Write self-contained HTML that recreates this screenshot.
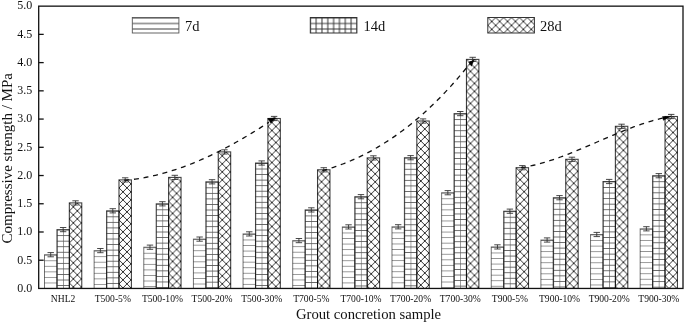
<!DOCTYPE html><html><head><meta charset="utf-8"><style>html,body{margin:0;padding:0;background:#fff}svg{display:block;will-change:transform}text{font-family:"Liberation Serif",serif;fill:#111}</style></head><body>
<svg width="685" height="323" viewBox="0 0 685 323">
<defs>
<pattern shape-rendering="crispEdges" id="g00a" patternUnits="userSpaceOnUse" width="40" height="5.55" x="44.50" y="254.75"><path d="M0,0H40M0,5.55H40" stroke="#888" stroke-width="0.9"/></pattern>
<pattern shape-rendering="crispEdges" id="g00b" patternUnits="userSpaceOnUse" width="6.1" height="5.55" x="44.50" y="254.75"><path d="M0,0V5.55M6.1,0V5.55" stroke="#888" stroke-width="0.9" fill="none"/><path d="M0,0H6.1M0,5.55H6.1" stroke="#555" stroke-width="0.9" fill="none"/></pattern>
<pattern id="g00c" patternUnits="userSpaceOnUse" width="8.0" height="8.0" x="44.50" y="254.75"><path d="M-1,-1 L9.0,9.0 M-1,9.0 L9.0,-1" stroke="#1a1a1a" stroke-width="0.9"/></pattern>
<pattern shape-rendering="crispEdges" id="g01a" patternUnits="userSpaceOnUse" width="40" height="5.55" x="56.92" y="229.60"><path d="M0,0H40M0,5.55H40" stroke="#888" stroke-width="0.9"/></pattern>
<pattern shape-rendering="crispEdges" id="g01b" patternUnits="userSpaceOnUse" width="6.1" height="5.55" x="56.92" y="229.60"><path d="M0,0V5.55M6.1,0V5.55" stroke="#888" stroke-width="0.9" fill="none"/><path d="M0,0H6.1M0,5.55H6.1" stroke="#555" stroke-width="0.9" fill="none"/></pattern>
<pattern id="g01c" patternUnits="userSpaceOnUse" width="8.0" height="8.0" x="56.92" y="229.60"><path d="M-1,-1 L9.0,9.0 M-1,9.0 L9.0,-1" stroke="#1a1a1a" stroke-width="0.9"/></pattern>
<pattern shape-rendering="crispEdges" id="g02a" patternUnits="userSpaceOnUse" width="40" height="5.55" x="69.34" y="202.90"><path d="M0,0H40M0,5.55H40" stroke="#888" stroke-width="0.9"/></pattern>
<pattern shape-rendering="crispEdges" id="g02b" patternUnits="userSpaceOnUse" width="6.1" height="5.55" x="69.34" y="202.90"><path d="M0,0V5.55M6.1,0V5.55" stroke="#888" stroke-width="0.9" fill="none"/><path d="M0,0H6.1M0,5.55H6.1" stroke="#555" stroke-width="0.9" fill="none"/></pattern>
<pattern id="g02c" patternUnits="userSpaceOnUse" width="8.0" height="8.0" x="69.34" y="202.90"><path d="M-1,-1 L9.0,9.0 M-1,9.0 L9.0,-1" stroke="#1a1a1a" stroke-width="0.9"/></pattern>
<pattern shape-rendering="crispEdges" id="g10a" patternUnits="userSpaceOnUse" width="40" height="5.55" x="94.14" y="250.65"><path d="M0,0H40M0,5.55H40" stroke="#888" stroke-width="0.9"/></pattern>
<pattern shape-rendering="crispEdges" id="g10b" patternUnits="userSpaceOnUse" width="6.1" height="5.55" x="94.14" y="250.65"><path d="M0,0V5.55M6.1,0V5.55" stroke="#888" stroke-width="0.9" fill="none"/><path d="M0,0H6.1M0,5.55H6.1" stroke="#555" stroke-width="0.9" fill="none"/></pattern>
<pattern id="g10c" patternUnits="userSpaceOnUse" width="8.0" height="8.0" x="94.14" y="250.65"><path d="M-1,-1 L9.0,9.0 M-1,9.0 L9.0,-1" stroke="#1a1a1a" stroke-width="0.9"/></pattern>
<pattern shape-rendering="crispEdges" id="g11a" patternUnits="userSpaceOnUse" width="40" height="5.55" x="106.56" y="210.80"><path d="M0,0H40M0,5.55H40" stroke="#888" stroke-width="0.9"/></pattern>
<pattern shape-rendering="crispEdges" id="g11b" patternUnits="userSpaceOnUse" width="6.1" height="5.55" x="106.56" y="210.80"><path d="M0,0V5.55M6.1,0V5.55" stroke="#888" stroke-width="0.9" fill="none"/><path d="M0,0H6.1M0,5.55H6.1" stroke="#555" stroke-width="0.9" fill="none"/></pattern>
<pattern id="g11c" patternUnits="userSpaceOnUse" width="8.0" height="8.0" x="106.56" y="210.80"><path d="M-1,-1 L9.0,9.0 M-1,9.0 L9.0,-1" stroke="#1a1a1a" stroke-width="0.9"/></pattern>
<pattern shape-rendering="crispEdges" id="g12a" patternUnits="userSpaceOnUse" width="40" height="5.55" x="118.98" y="179.90"><path d="M0,0H40M0,5.55H40" stroke="#888" stroke-width="0.9"/></pattern>
<pattern shape-rendering="crispEdges" id="g12b" patternUnits="userSpaceOnUse" width="6.1" height="5.55" x="118.98" y="179.90"><path d="M0,0V5.55M6.1,0V5.55" stroke="#888" stroke-width="0.9" fill="none"/><path d="M0,0H6.1M0,5.55H6.1" stroke="#555" stroke-width="0.9" fill="none"/></pattern>
<pattern id="g12c" patternUnits="userSpaceOnUse" width="8.0" height="8.0" x="118.98" y="179.90"><path d="M-1,-1 L9.0,9.0 M-1,9.0 L9.0,-1" stroke="#1a1a1a" stroke-width="0.9"/></pattern>
<pattern shape-rendering="crispEdges" id="g20a" patternUnits="userSpaceOnUse" width="40" height="5.55" x="143.78" y="247.25"><path d="M0,0H40M0,5.55H40" stroke="#888" stroke-width="0.9"/></pattern>
<pattern shape-rendering="crispEdges" id="g20b" patternUnits="userSpaceOnUse" width="6.1" height="5.55" x="143.78" y="247.25"><path d="M0,0V5.55M6.1,0V5.55" stroke="#888" stroke-width="0.9" fill="none"/><path d="M0,0H6.1M0,5.55H6.1" stroke="#555" stroke-width="0.9" fill="none"/></pattern>
<pattern id="g20c" patternUnits="userSpaceOnUse" width="8.0" height="8.0" x="143.78" y="247.25"><path d="M-1,-1 L9.0,9.0 M-1,9.0 L9.0,-1" stroke="#1a1a1a" stroke-width="0.9"/></pattern>
<pattern shape-rendering="crispEdges" id="g21a" patternUnits="userSpaceOnUse" width="40" height="5.55" x="156.20" y="203.80"><path d="M0,0H40M0,5.55H40" stroke="#888" stroke-width="0.9"/></pattern>
<pattern shape-rendering="crispEdges" id="g21b" patternUnits="userSpaceOnUse" width="6.1" height="5.55" x="156.20" y="203.80"><path d="M0,0V5.55M6.1,0V5.55" stroke="#888" stroke-width="0.9" fill="none"/><path d="M0,0H6.1M0,5.55H6.1" stroke="#555" stroke-width="0.9" fill="none"/></pattern>
<pattern id="g21c" patternUnits="userSpaceOnUse" width="8.0" height="8.0" x="156.20" y="203.80"><path d="M-1,-1 L9.0,9.0 M-1,9.0 L9.0,-1" stroke="#1a1a1a" stroke-width="0.9"/></pattern>
<pattern shape-rendering="crispEdges" id="g22a" patternUnits="userSpaceOnUse" width="40" height="5.55" x="168.62" y="177.40"><path d="M0,0H40M0,5.55H40" stroke="#888" stroke-width="0.9"/></pattern>
<pattern shape-rendering="crispEdges" id="g22b" patternUnits="userSpaceOnUse" width="6.1" height="5.55" x="168.62" y="177.40"><path d="M0,0V5.55M6.1,0V5.55" stroke="#888" stroke-width="0.9" fill="none"/><path d="M0,0H6.1M0,5.55H6.1" stroke="#555" stroke-width="0.9" fill="none"/></pattern>
<pattern id="g22c" patternUnits="userSpaceOnUse" width="8.0" height="8.0" x="168.62" y="177.40"><path d="M-1,-1 L9.0,9.0 M-1,9.0 L9.0,-1" stroke="#1a1a1a" stroke-width="0.9"/></pattern>
<pattern shape-rendering="crispEdges" id="g30a" patternUnits="userSpaceOnUse" width="40" height="5.55" x="193.42" y="239.15"><path d="M0,0H40M0,5.55H40" stroke="#888" stroke-width="0.9"/></pattern>
<pattern shape-rendering="crispEdges" id="g30b" patternUnits="userSpaceOnUse" width="6.1" height="5.55" x="193.42" y="239.15"><path d="M0,0V5.55M6.1,0V5.55" stroke="#888" stroke-width="0.9" fill="none"/><path d="M0,0H6.1M0,5.55H6.1" stroke="#555" stroke-width="0.9" fill="none"/></pattern>
<pattern id="g30c" patternUnits="userSpaceOnUse" width="8.0" height="8.0" x="193.42" y="239.15"><path d="M-1,-1 L9.0,9.0 M-1,9.0 L9.0,-1" stroke="#1a1a1a" stroke-width="0.9"/></pattern>
<pattern shape-rendering="crispEdges" id="g31a" patternUnits="userSpaceOnUse" width="40" height="5.55" x="205.84" y="181.80"><path d="M0,0H40M0,5.55H40" stroke="#888" stroke-width="0.9"/></pattern>
<pattern shape-rendering="crispEdges" id="g31b" patternUnits="userSpaceOnUse" width="6.1" height="5.55" x="205.84" y="181.80"><path d="M0,0V5.55M6.1,0V5.55" stroke="#888" stroke-width="0.9" fill="none"/><path d="M0,0H6.1M0,5.55H6.1" stroke="#555" stroke-width="0.9" fill="none"/></pattern>
<pattern id="g31c" patternUnits="userSpaceOnUse" width="8.0" height="8.0" x="205.84" y="181.80"><path d="M-1,-1 L9.0,9.0 M-1,9.0 L9.0,-1" stroke="#1a1a1a" stroke-width="0.9"/></pattern>
<pattern shape-rendering="crispEdges" id="g32a" patternUnits="userSpaceOnUse" width="40" height="5.55" x="218.26" y="151.90"><path d="M0,0H40M0,5.55H40" stroke="#888" stroke-width="0.9"/></pattern>
<pattern shape-rendering="crispEdges" id="g32b" patternUnits="userSpaceOnUse" width="6.1" height="5.55" x="218.26" y="151.90"><path d="M0,0V5.55M6.1,0V5.55" stroke="#888" stroke-width="0.9" fill="none"/><path d="M0,0H6.1M0,5.55H6.1" stroke="#555" stroke-width="0.9" fill="none"/></pattern>
<pattern id="g32c" patternUnits="userSpaceOnUse" width="8.0" height="8.0" x="218.26" y="151.90"><path d="M-1,-1 L9.0,9.0 M-1,9.0 L9.0,-1" stroke="#1a1a1a" stroke-width="0.9"/></pattern>
<pattern shape-rendering="crispEdges" id="g40a" patternUnits="userSpaceOnUse" width="40" height="5.55" x="243.06" y="233.95"><path d="M0,0H40M0,5.55H40" stroke="#888" stroke-width="0.9"/></pattern>
<pattern shape-rendering="crispEdges" id="g40b" patternUnits="userSpaceOnUse" width="6.1" height="5.55" x="243.06" y="233.95"><path d="M0,0V5.55M6.1,0V5.55" stroke="#888" stroke-width="0.9" fill="none"/><path d="M0,0H6.1M0,5.55H6.1" stroke="#555" stroke-width="0.9" fill="none"/></pattern>
<pattern id="g40c" patternUnits="userSpaceOnUse" width="8.0" height="8.0" x="243.06" y="233.95"><path d="M-1,-1 L9.0,9.0 M-1,9.0 L9.0,-1" stroke="#1a1a1a" stroke-width="0.9"/></pattern>
<pattern shape-rendering="crispEdges" id="g41a" patternUnits="userSpaceOnUse" width="40" height="5.55" x="255.48" y="163.00"><path d="M0,0H40M0,5.55H40" stroke="#888" stroke-width="0.9"/></pattern>
<pattern shape-rendering="crispEdges" id="g41b" patternUnits="userSpaceOnUse" width="6.1" height="5.55" x="255.48" y="163.00"><path d="M0,0V5.55M6.1,0V5.55" stroke="#888" stroke-width="0.9" fill="none"/><path d="M0,0H6.1M0,5.55H6.1" stroke="#555" stroke-width="0.9" fill="none"/></pattern>
<pattern id="g41c" patternUnits="userSpaceOnUse" width="8.0" height="8.0" x="255.48" y="163.00"><path d="M-1,-1 L9.0,9.0 M-1,9.0 L9.0,-1" stroke="#1a1a1a" stroke-width="0.9"/></pattern>
<pattern shape-rendering="crispEdges" id="g42a" patternUnits="userSpaceOnUse" width="40" height="5.55" x="267.90" y="118.50"><path d="M0,0H40M0,5.55H40" stroke="#888" stroke-width="0.9"/></pattern>
<pattern shape-rendering="crispEdges" id="g42b" patternUnits="userSpaceOnUse" width="6.1" height="5.55" x="267.90" y="118.50"><path d="M0,0V5.55M6.1,0V5.55" stroke="#888" stroke-width="0.9" fill="none"/><path d="M0,0H6.1M0,5.55H6.1" stroke="#555" stroke-width="0.9" fill="none"/></pattern>
<pattern id="g42c" patternUnits="userSpaceOnUse" width="8.0" height="8.0" x="267.90" y="118.50"><path d="M-1,-1 L9.0,9.0 M-1,9.0 L9.0,-1" stroke="#1a1a1a" stroke-width="0.9"/></pattern>
<pattern shape-rendering="crispEdges" id="g50a" patternUnits="userSpaceOnUse" width="40" height="5.55" x="292.70" y="240.65"><path d="M0,0H40M0,5.55H40" stroke="#888" stroke-width="0.9"/></pattern>
<pattern shape-rendering="crispEdges" id="g50b" patternUnits="userSpaceOnUse" width="6.1" height="5.55" x="292.70" y="240.65"><path d="M0,0V5.55M6.1,0V5.55" stroke="#888" stroke-width="0.9" fill="none"/><path d="M0,0H6.1M0,5.55H6.1" stroke="#555" stroke-width="0.9" fill="none"/></pattern>
<pattern id="g50c" patternUnits="userSpaceOnUse" width="8.0" height="8.0" x="292.70" y="240.65"><path d="M-1,-1 L9.0,9.0 M-1,9.0 L9.0,-1" stroke="#1a1a1a" stroke-width="0.9"/></pattern>
<pattern shape-rendering="crispEdges" id="g51a" patternUnits="userSpaceOnUse" width="40" height="5.55" x="305.12" y="209.90"><path d="M0,0H40M0,5.55H40" stroke="#888" stroke-width="0.9"/></pattern>
<pattern shape-rendering="crispEdges" id="g51b" patternUnits="userSpaceOnUse" width="6.1" height="5.55" x="305.12" y="209.90"><path d="M0,0V5.55M6.1,0V5.55" stroke="#888" stroke-width="0.9" fill="none"/><path d="M0,0H6.1M0,5.55H6.1" stroke="#555" stroke-width="0.9" fill="none"/></pattern>
<pattern id="g51c" patternUnits="userSpaceOnUse" width="8.0" height="8.0" x="305.12" y="209.90"><path d="M-1,-1 L9.0,9.0 M-1,9.0 L9.0,-1" stroke="#1a1a1a" stroke-width="0.9"/></pattern>
<pattern shape-rendering="crispEdges" id="g52a" patternUnits="userSpaceOnUse" width="40" height="5.55" x="317.54" y="169.80"><path d="M0,0H40M0,5.55H40" stroke="#888" stroke-width="0.9"/></pattern>
<pattern shape-rendering="crispEdges" id="g52b" patternUnits="userSpaceOnUse" width="6.1" height="5.55" x="317.54" y="169.80"><path d="M0,0V5.55M6.1,0V5.55" stroke="#888" stroke-width="0.9" fill="none"/><path d="M0,0H6.1M0,5.55H6.1" stroke="#555" stroke-width="0.9" fill="none"/></pattern>
<pattern id="g52c" patternUnits="userSpaceOnUse" width="8.0" height="8.0" x="317.54" y="169.80"><path d="M-1,-1 L9.0,9.0 M-1,9.0 L9.0,-1" stroke="#1a1a1a" stroke-width="0.9"/></pattern>
<pattern shape-rendering="crispEdges" id="g60a" patternUnits="userSpaceOnUse" width="40" height="5.55" x="342.34" y="226.95"><path d="M0,0H40M0,5.55H40" stroke="#888" stroke-width="0.9"/></pattern>
<pattern shape-rendering="crispEdges" id="g60b" patternUnits="userSpaceOnUse" width="6.1" height="5.55" x="342.34" y="226.95"><path d="M0,0V5.55M6.1,0V5.55" stroke="#888" stroke-width="0.9" fill="none"/><path d="M0,0H6.1M0,5.55H6.1" stroke="#555" stroke-width="0.9" fill="none"/></pattern>
<pattern id="g60c" patternUnits="userSpaceOnUse" width="8.0" height="8.0" x="342.34" y="226.95"><path d="M-1,-1 L9.0,9.0 M-1,9.0 L9.0,-1" stroke="#1a1a1a" stroke-width="0.9"/></pattern>
<pattern shape-rendering="crispEdges" id="g61a" patternUnits="userSpaceOnUse" width="40" height="5.55" x="354.76" y="196.70"><path d="M0,0H40M0,5.55H40" stroke="#888" stroke-width="0.9"/></pattern>
<pattern shape-rendering="crispEdges" id="g61b" patternUnits="userSpaceOnUse" width="6.1" height="5.55" x="354.76" y="196.70"><path d="M0,0V5.55M6.1,0V5.55" stroke="#888" stroke-width="0.9" fill="none"/><path d="M0,0H6.1M0,5.55H6.1" stroke="#555" stroke-width="0.9" fill="none"/></pattern>
<pattern id="g61c" patternUnits="userSpaceOnUse" width="8.0" height="8.0" x="354.76" y="196.70"><path d="M-1,-1 L9.0,9.0 M-1,9.0 L9.0,-1" stroke="#1a1a1a" stroke-width="0.9"/></pattern>
<pattern shape-rendering="crispEdges" id="g62a" patternUnits="userSpaceOnUse" width="40" height="5.55" x="367.18" y="157.90"><path d="M0,0H40M0,5.55H40" stroke="#888" stroke-width="0.9"/></pattern>
<pattern shape-rendering="crispEdges" id="g62b" patternUnits="userSpaceOnUse" width="6.1" height="5.55" x="367.18" y="157.90"><path d="M0,0V5.55M6.1,0V5.55" stroke="#888" stroke-width="0.9" fill="none"/><path d="M0,0H6.1M0,5.55H6.1" stroke="#555" stroke-width="0.9" fill="none"/></pattern>
<pattern id="g62c" patternUnits="userSpaceOnUse" width="8.0" height="8.0" x="367.18" y="157.90"><path d="M-1,-1 L9.0,9.0 M-1,9.0 L9.0,-1" stroke="#1a1a1a" stroke-width="0.9"/></pattern>
<pattern shape-rendering="crispEdges" id="g70a" patternUnits="userSpaceOnUse" width="40" height="5.55" x="391.98" y="226.85"><path d="M0,0H40M0,5.55H40" stroke="#888" stroke-width="0.9"/></pattern>
<pattern shape-rendering="crispEdges" id="g70b" patternUnits="userSpaceOnUse" width="6.1" height="5.55" x="391.98" y="226.85"><path d="M0,0V5.55M6.1,0V5.55" stroke="#888" stroke-width="0.9" fill="none"/><path d="M0,0H6.1M0,5.55H6.1" stroke="#555" stroke-width="0.9" fill="none"/></pattern>
<pattern id="g70c" patternUnits="userSpaceOnUse" width="8.0" height="8.0" x="391.98" y="226.85"><path d="M-1,-1 L9.0,9.0 M-1,9.0 L9.0,-1" stroke="#1a1a1a" stroke-width="0.9"/></pattern>
<pattern shape-rendering="crispEdges" id="g71a" patternUnits="userSpaceOnUse" width="40" height="5.55" x="404.40" y="157.70"><path d="M0,0H40M0,5.55H40" stroke="#888" stroke-width="0.9"/></pattern>
<pattern shape-rendering="crispEdges" id="g71b" patternUnits="userSpaceOnUse" width="6.1" height="5.55" x="404.40" y="157.70"><path d="M0,0V5.55M6.1,0V5.55" stroke="#888" stroke-width="0.9" fill="none"/><path d="M0,0H6.1M0,5.55H6.1" stroke="#555" stroke-width="0.9" fill="none"/></pattern>
<pattern id="g71c" patternUnits="userSpaceOnUse" width="8.0" height="8.0" x="404.40" y="157.70"><path d="M-1,-1 L9.0,9.0 M-1,9.0 L9.0,-1" stroke="#1a1a1a" stroke-width="0.9"/></pattern>
<pattern shape-rendering="crispEdges" id="g72a" patternUnits="userSpaceOnUse" width="40" height="5.55" x="416.82" y="121.00"><path d="M0,0H40M0,5.55H40" stroke="#888" stroke-width="0.9"/></pattern>
<pattern shape-rendering="crispEdges" id="g72b" patternUnits="userSpaceOnUse" width="6.1" height="5.55" x="416.82" y="121.00"><path d="M0,0V5.55M6.1,0V5.55" stroke="#888" stroke-width="0.9" fill="none"/><path d="M0,0H6.1M0,5.55H6.1" stroke="#555" stroke-width="0.9" fill="none"/></pattern>
<pattern id="g72c" patternUnits="userSpaceOnUse" width="8.0" height="8.0" x="416.82" y="121.00"><path d="M-1,-1 L9.0,9.0 M-1,9.0 L9.0,-1" stroke="#1a1a1a" stroke-width="0.9"/></pattern>
<pattern shape-rendering="crispEdges" id="g80a" patternUnits="userSpaceOnUse" width="40" height="5.55" x="441.62" y="192.75"><path d="M0,0H40M0,5.55H40" stroke="#888" stroke-width="0.9"/></pattern>
<pattern shape-rendering="crispEdges" id="g80b" patternUnits="userSpaceOnUse" width="6.1" height="5.55" x="441.62" y="192.75"><path d="M0,0V5.55M6.1,0V5.55" stroke="#888" stroke-width="0.9" fill="none"/><path d="M0,0H6.1M0,5.55H6.1" stroke="#555" stroke-width="0.9" fill="none"/></pattern>
<pattern id="g80c" patternUnits="userSpaceOnUse" width="8.0" height="8.0" x="441.62" y="192.75"><path d="M-1,-1 L9.0,9.0 M-1,9.0 L9.0,-1" stroke="#1a1a1a" stroke-width="0.9"/></pattern>
<pattern shape-rendering="crispEdges" id="g81a" patternUnits="userSpaceOnUse" width="40" height="5.55" x="454.04" y="113.60"><path d="M0,0H40M0,5.55H40" stroke="#888" stroke-width="0.9"/></pattern>
<pattern shape-rendering="crispEdges" id="g81b" patternUnits="userSpaceOnUse" width="6.1" height="5.55" x="454.04" y="113.60"><path d="M0,0V5.55M6.1,0V5.55" stroke="#888" stroke-width="0.9" fill="none"/><path d="M0,0H6.1M0,5.55H6.1" stroke="#555" stroke-width="0.9" fill="none"/></pattern>
<pattern id="g81c" patternUnits="userSpaceOnUse" width="8.0" height="8.0" x="454.04" y="113.60"><path d="M-1,-1 L9.0,9.0 M-1,9.0 L9.0,-1" stroke="#1a1a1a" stroke-width="0.9"/></pattern>
<pattern shape-rendering="crispEdges" id="g82a" patternUnits="userSpaceOnUse" width="40" height="5.55" x="466.46" y="59.40"><path d="M0,0H40M0,5.55H40" stroke="#888" stroke-width="0.9"/></pattern>
<pattern shape-rendering="crispEdges" id="g82b" patternUnits="userSpaceOnUse" width="6.1" height="5.55" x="466.46" y="59.40"><path d="M0,0V5.55M6.1,0V5.55" stroke="#888" stroke-width="0.9" fill="none"/><path d="M0,0H6.1M0,5.55H6.1" stroke="#555" stroke-width="0.9" fill="none"/></pattern>
<pattern id="g82c" patternUnits="userSpaceOnUse" width="8.0" height="8.0" x="466.46" y="59.40"><path d="M-1,-1 L9.0,9.0 M-1,9.0 L9.0,-1" stroke="#1a1a1a" stroke-width="0.9"/></pattern>
<pattern shape-rendering="crispEdges" id="g90a" patternUnits="userSpaceOnUse" width="40" height="5.55" x="491.26" y="246.95"><path d="M0,0H40M0,5.55H40" stroke="#888" stroke-width="0.9"/></pattern>
<pattern shape-rendering="crispEdges" id="g90b" patternUnits="userSpaceOnUse" width="6.1" height="5.55" x="491.26" y="246.95"><path d="M0,0V5.55M6.1,0V5.55" stroke="#888" stroke-width="0.9" fill="none"/><path d="M0,0H6.1M0,5.55H6.1" stroke="#555" stroke-width="0.9" fill="none"/></pattern>
<pattern id="g90c" patternUnits="userSpaceOnUse" width="8.0" height="8.0" x="491.26" y="246.95"><path d="M-1,-1 L9.0,9.0 M-1,9.0 L9.0,-1" stroke="#1a1a1a" stroke-width="0.9"/></pattern>
<pattern shape-rendering="crispEdges" id="g91a" patternUnits="userSpaceOnUse" width="40" height="5.55" x="503.68" y="211.20"><path d="M0,0H40M0,5.55H40" stroke="#888" stroke-width="0.9"/></pattern>
<pattern shape-rendering="crispEdges" id="g91b" patternUnits="userSpaceOnUse" width="6.1" height="5.55" x="503.68" y="211.20"><path d="M0,0V5.55M6.1,0V5.55" stroke="#888" stroke-width="0.9" fill="none"/><path d="M0,0H6.1M0,5.55H6.1" stroke="#555" stroke-width="0.9" fill="none"/></pattern>
<pattern id="g91c" patternUnits="userSpaceOnUse" width="8.0" height="8.0" x="503.68" y="211.20"><path d="M-1,-1 L9.0,9.0 M-1,9.0 L9.0,-1" stroke="#1a1a1a" stroke-width="0.9"/></pattern>
<pattern shape-rendering="crispEdges" id="g92a" patternUnits="userSpaceOnUse" width="40" height="5.55" x="516.10" y="167.70"><path d="M0,0H40M0,5.55H40" stroke="#888" stroke-width="0.9"/></pattern>
<pattern shape-rendering="crispEdges" id="g92b" patternUnits="userSpaceOnUse" width="6.1" height="5.55" x="516.10" y="167.70"><path d="M0,0V5.55M6.1,0V5.55" stroke="#888" stroke-width="0.9" fill="none"/><path d="M0,0H6.1M0,5.55H6.1" stroke="#555" stroke-width="0.9" fill="none"/></pattern>
<pattern id="g92c" patternUnits="userSpaceOnUse" width="8.0" height="8.0" x="516.10" y="167.70"><path d="M-1,-1 L9.0,9.0 M-1,9.0 L9.0,-1" stroke="#1a1a1a" stroke-width="0.9"/></pattern>
<pattern shape-rendering="crispEdges" id="g100a" patternUnits="userSpaceOnUse" width="40" height="5.55" x="540.90" y="240.05"><path d="M0,0H40M0,5.55H40" stroke="#888" stroke-width="0.9"/></pattern>
<pattern shape-rendering="crispEdges" id="g100b" patternUnits="userSpaceOnUse" width="6.1" height="5.55" x="540.90" y="240.05"><path d="M0,0V5.55M6.1,0V5.55" stroke="#888" stroke-width="0.9" fill="none"/><path d="M0,0H6.1M0,5.55H6.1" stroke="#555" stroke-width="0.9" fill="none"/></pattern>
<pattern id="g100c" patternUnits="userSpaceOnUse" width="8.0" height="8.0" x="540.90" y="240.05"><path d="M-1,-1 L9.0,9.0 M-1,9.0 L9.0,-1" stroke="#1a1a1a" stroke-width="0.9"/></pattern>
<pattern shape-rendering="crispEdges" id="g101a" patternUnits="userSpaceOnUse" width="40" height="5.55" x="553.32" y="197.70"><path d="M0,0H40M0,5.55H40" stroke="#888" stroke-width="0.9"/></pattern>
<pattern shape-rendering="crispEdges" id="g101b" patternUnits="userSpaceOnUse" width="6.1" height="5.55" x="553.32" y="197.70"><path d="M0,0V5.55M6.1,0V5.55" stroke="#888" stroke-width="0.9" fill="none"/><path d="M0,0H6.1M0,5.55H6.1" stroke="#555" stroke-width="0.9" fill="none"/></pattern>
<pattern id="g101c" patternUnits="userSpaceOnUse" width="8.0" height="8.0" x="553.32" y="197.70"><path d="M-1,-1 L9.0,9.0 M-1,9.0 L9.0,-1" stroke="#1a1a1a" stroke-width="0.9"/></pattern>
<pattern shape-rendering="crispEdges" id="g102a" patternUnits="userSpaceOnUse" width="40" height="5.55" x="565.74" y="159.30"><path d="M0,0H40M0,5.55H40" stroke="#888" stroke-width="0.9"/></pattern>
<pattern shape-rendering="crispEdges" id="g102b" patternUnits="userSpaceOnUse" width="6.1" height="5.55" x="565.74" y="159.30"><path d="M0,0V5.55M6.1,0V5.55" stroke="#888" stroke-width="0.9" fill="none"/><path d="M0,0H6.1M0,5.55H6.1" stroke="#555" stroke-width="0.9" fill="none"/></pattern>
<pattern id="g102c" patternUnits="userSpaceOnUse" width="8.0" height="8.0" x="565.74" y="159.30"><path d="M-1,-1 L9.0,9.0 M-1,9.0 L9.0,-1" stroke="#1a1a1a" stroke-width="0.9"/></pattern>
<pattern shape-rendering="crispEdges" id="g110a" patternUnits="userSpaceOnUse" width="40" height="5.55" x="590.54" y="234.55"><path d="M0,0H40M0,5.55H40" stroke="#888" stroke-width="0.9"/></pattern>
<pattern shape-rendering="crispEdges" id="g110b" patternUnits="userSpaceOnUse" width="6.1" height="5.55" x="590.54" y="234.55"><path d="M0,0V5.55M6.1,0V5.55" stroke="#888" stroke-width="0.9" fill="none"/><path d="M0,0H6.1M0,5.55H6.1" stroke="#555" stroke-width="0.9" fill="none"/></pattern>
<pattern id="g110c" patternUnits="userSpaceOnUse" width="8.0" height="8.0" x="590.54" y="234.55"><path d="M-1,-1 L9.0,9.0 M-1,9.0 L9.0,-1" stroke="#1a1a1a" stroke-width="0.9"/></pattern>
<pattern shape-rendering="crispEdges" id="g111a" patternUnits="userSpaceOnUse" width="40" height="5.55" x="602.96" y="181.50"><path d="M0,0H40M0,5.55H40" stroke="#888" stroke-width="0.9"/></pattern>
<pattern shape-rendering="crispEdges" id="g111b" patternUnits="userSpaceOnUse" width="6.1" height="5.55" x="602.96" y="181.50"><path d="M0,0V5.55M6.1,0V5.55" stroke="#888" stroke-width="0.9" fill="none"/><path d="M0,0H6.1M0,5.55H6.1" stroke="#555" stroke-width="0.9" fill="none"/></pattern>
<pattern id="g111c" patternUnits="userSpaceOnUse" width="8.0" height="8.0" x="602.96" y="181.50"><path d="M-1,-1 L9.0,9.0 M-1,9.0 L9.0,-1" stroke="#1a1a1a" stroke-width="0.9"/></pattern>
<pattern shape-rendering="crispEdges" id="g112a" patternUnits="userSpaceOnUse" width="40" height="5.55" x="615.38" y="126.30"><path d="M0,0H40M0,5.55H40" stroke="#888" stroke-width="0.9"/></pattern>
<pattern shape-rendering="crispEdges" id="g112b" patternUnits="userSpaceOnUse" width="6.1" height="5.55" x="615.38" y="126.30"><path d="M0,0V5.55M6.1,0V5.55" stroke="#888" stroke-width="0.9" fill="none"/><path d="M0,0H6.1M0,5.55H6.1" stroke="#555" stroke-width="0.9" fill="none"/></pattern>
<pattern id="g112c" patternUnits="userSpaceOnUse" width="8.0" height="8.0" x="615.38" y="126.30"><path d="M-1,-1 L9.0,9.0 M-1,9.0 L9.0,-1" stroke="#1a1a1a" stroke-width="0.9"/></pattern>
<pattern shape-rendering="crispEdges" id="g120a" patternUnits="userSpaceOnUse" width="40" height="5.55" x="640.18" y="228.85"><path d="M0,0H40M0,5.55H40" stroke="#888" stroke-width="0.9"/></pattern>
<pattern shape-rendering="crispEdges" id="g120b" patternUnits="userSpaceOnUse" width="6.1" height="5.55" x="640.18" y="228.85"><path d="M0,0V5.55M6.1,0V5.55" stroke="#888" stroke-width="0.9" fill="none"/><path d="M0,0H6.1M0,5.55H6.1" stroke="#555" stroke-width="0.9" fill="none"/></pattern>
<pattern id="g120c" patternUnits="userSpaceOnUse" width="8.0" height="8.0" x="640.18" y="228.85"><path d="M-1,-1 L9.0,9.0 M-1,9.0 L9.0,-1" stroke="#1a1a1a" stroke-width="0.9"/></pattern>
<pattern shape-rendering="crispEdges" id="g121a" patternUnits="userSpaceOnUse" width="40" height="5.55" x="652.60" y="175.70"><path d="M0,0H40M0,5.55H40" stroke="#888" stroke-width="0.9"/></pattern>
<pattern shape-rendering="crispEdges" id="g121b" patternUnits="userSpaceOnUse" width="6.1" height="5.55" x="652.60" y="175.70"><path d="M0,0V5.55M6.1,0V5.55" stroke="#888" stroke-width="0.9" fill="none"/><path d="M0,0H6.1M0,5.55H6.1" stroke="#555" stroke-width="0.9" fill="none"/></pattern>
<pattern id="g121c" patternUnits="userSpaceOnUse" width="8.0" height="8.0" x="652.60" y="175.70"><path d="M-1,-1 L9.0,9.0 M-1,9.0 L9.0,-1" stroke="#1a1a1a" stroke-width="0.9"/></pattern>
<pattern shape-rendering="crispEdges" id="g122a" patternUnits="userSpaceOnUse" width="40" height="5.55" x="665.02" y="116.50"><path d="M0,0H40M0,5.55H40" stroke="#888" stroke-width="0.9"/></pattern>
<pattern shape-rendering="crispEdges" id="g122b" patternUnits="userSpaceOnUse" width="6.1" height="5.55" x="665.02" y="116.50"><path d="M0,0V5.55M6.1,0V5.55" stroke="#888" stroke-width="0.9" fill="none"/><path d="M0,0H6.1M0,5.55H6.1" stroke="#555" stroke-width="0.9" fill="none"/></pattern>
<pattern id="g122c" patternUnits="userSpaceOnUse" width="8.0" height="8.0" x="665.02" y="116.50"><path d="M-1,-1 L9.0,9.0 M-1,9.0 L9.0,-1" stroke="#1a1a1a" stroke-width="0.9"/></pattern>
<pattern id="L0a" patternUnits="userSpaceOnUse" width="40" height="5.5" x="132.30" y="18.00"><path d="M0,0H40M0,5.5H40" stroke="#333" stroke-width="1.0"/></pattern>
<pattern id="L0b" patternUnits="userSpaceOnUse" width="6.1" height="5.55" x="132.30" y="18.00"><path d="M0,0V5.55M6.1,0V5.55" stroke="#555" stroke-width="0.9" fill="none"/><path d="M0,0H6.1M0,5.55H6.1" stroke="#555" stroke-width="0.9" fill="none"/></pattern>
<pattern id="L0c" patternUnits="userSpaceOnUse" width="8.0" height="8.0" x="132.30" y="18.00"><path d="M-1,-1 L9.0,9.0 M-1,9.0 L9.0,-1" stroke="#1a1a1a" stroke-width="0.9"/></pattern>
<pattern id="L1a" patternUnits="userSpaceOnUse" width="40" height="5.55" x="310.30" y="18.00"><path d="M0,0H40M0,5.55H40" stroke="#888" stroke-width="0.9"/></pattern>
<pattern id="L1b" patternUnits="userSpaceOnUse" width="5.83" height="5.5" x="310.30" y="18.00"><path d="M0,0V5.5M5.83,0V5.5" stroke="#333" stroke-width="1.0" fill="none"/><path d="M0,0H5.83M0,5.5H5.83" stroke="#333" stroke-width="1.0" fill="none"/></pattern>
<pattern id="L1c" patternUnits="userSpaceOnUse" width="8.0" height="8.0" x="310.30" y="18.00"><path d="M-1,-1 L9.0,9.0 M-1,9.0 L9.0,-1" stroke="#1a1a1a" stroke-width="0.9"/></pattern>
<pattern id="L2a" patternUnits="userSpaceOnUse" width="40" height="5.55" x="487.80" y="17.50"><path d="M0,0H40M0,5.55H40" stroke="#888" stroke-width="0.9"/></pattern>
<pattern id="L2b" patternUnits="userSpaceOnUse" width="5.83" height="5.55" x="487.80" y="17.50"><path d="M0,0V5.55M5.83,0V5.55" stroke="#555" stroke-width="0.9" fill="none"/><path d="M0,0H5.83M0,5.55H5.83" stroke="#555" stroke-width="0.9" fill="none"/></pattern>
<pattern id="L2c" patternUnits="userSpaceOnUse" width="7.9" height="7.9" x="487.80" y="17.50"><path d="M-1,-1 L8.9,8.9 M-1,8.9 L8.9,-1" stroke="#1a1a1a" stroke-width="0.9"/></pattern>
</defs>
<rect width="685" height="323" fill="#fff"/>
<rect x="44.50" y="254.70" width="12.42" height="33.75" fill="url(#g00a)" stroke="rgba(0,0,0,0.55)" stroke-width="1.0"/>
<rect x="56.92" y="229.60" width="12.42" height="58.85" fill="url(#g01b)" stroke="rgba(0,0,0,0.7)" stroke-width="1.0"/>
<rect x="69.34" y="202.90" width="12.42" height="85.55" fill="url(#g02c)" stroke="rgba(0,0,0,0.75)" stroke-width="1.1"/>
<path d="M50.71,252.60V256.80M47.51,252.60h6.4M47.51,256.80h6.4" stroke="#333" stroke-width="0.9" fill="none"/>
<path d="M63.13,227.50V231.70M59.93,227.50h6.4M59.93,231.70h6.4" stroke="#333" stroke-width="0.9" fill="none"/>
<path d="M75.55,200.80V205.00M72.35,200.80h6.4M72.35,205.00h6.4" stroke="#333" stroke-width="0.9" fill="none"/>
<text x="63.13" y="301.6" font-size="9.6" text-anchor="middle">NHL2</text>
<rect x="94.14" y="250.60" width="12.42" height="37.85" fill="url(#g10a)" stroke="rgba(0,0,0,0.55)" stroke-width="1.0"/>
<rect x="106.56" y="210.80" width="12.42" height="77.65" fill="url(#g11b)" stroke="rgba(0,0,0,0.7)" stroke-width="1.0"/>
<rect x="118.98" y="179.90" width="12.42" height="108.55" fill="url(#g12c)" stroke="rgba(0,0,0,0.75)" stroke-width="1.1"/>
<path d="M100.35,248.50V252.70M97.15,248.50h6.4M97.15,252.70h6.4" stroke="#333" stroke-width="0.9" fill="none"/>
<path d="M112.77,208.70V212.90M109.57,208.70h6.4M109.57,212.90h6.4" stroke="#333" stroke-width="0.9" fill="none"/>
<path d="M125.19,177.80V182.00M121.99,177.80h6.4M121.99,182.00h6.4" stroke="#333" stroke-width="0.9" fill="none"/>
<text x="112.77" y="301.6" font-size="9.6" text-anchor="middle">T500-5%</text>
<rect x="143.78" y="247.20" width="12.42" height="41.25" fill="url(#g20a)" stroke="rgba(0,0,0,0.55)" stroke-width="1.0"/>
<rect x="156.20" y="203.80" width="12.42" height="84.65" fill="url(#g21b)" stroke="rgba(0,0,0,0.7)" stroke-width="1.0"/>
<rect x="168.62" y="177.40" width="12.42" height="111.05" fill="url(#g22c)" stroke="rgba(0,0,0,0.75)" stroke-width="1.1"/>
<path d="M149.99,245.10V249.30M146.79,245.10h6.4M146.79,249.30h6.4" stroke="#333" stroke-width="0.9" fill="none"/>
<path d="M162.41,201.70V205.90M159.21,201.70h6.4M159.21,205.90h6.4" stroke="#333" stroke-width="0.9" fill="none"/>
<path d="M174.83,175.30V179.50M171.63,175.30h6.4M171.63,179.50h6.4" stroke="#333" stroke-width="0.9" fill="none"/>
<text x="162.41" y="301.6" font-size="9.6" text-anchor="middle">T500-10%</text>
<rect x="193.42" y="239.10" width="12.42" height="49.35" fill="url(#g30a)" stroke="rgba(0,0,0,0.55)" stroke-width="1.0"/>
<rect x="205.84" y="181.80" width="12.42" height="106.65" fill="url(#g31b)" stroke="rgba(0,0,0,0.7)" stroke-width="1.0"/>
<rect x="218.26" y="151.90" width="12.42" height="136.55" fill="url(#g32c)" stroke="rgba(0,0,0,0.75)" stroke-width="1.1"/>
<path d="M199.63,237.00V241.20M196.43,237.00h6.4M196.43,241.20h6.4" stroke="#333" stroke-width="0.9" fill="none"/>
<path d="M212.05,179.70V183.90M208.85,179.70h6.4M208.85,183.90h6.4" stroke="#333" stroke-width="0.9" fill="none"/>
<path d="M224.47,149.80V154.00M221.27,149.80h6.4M221.27,154.00h6.4" stroke="#333" stroke-width="0.9" fill="none"/>
<text x="212.05" y="301.6" font-size="9.6" text-anchor="middle">T500-20%</text>
<rect x="243.06" y="233.90" width="12.42" height="54.55" fill="url(#g40a)" stroke="rgba(0,0,0,0.55)" stroke-width="1.0"/>
<rect x="255.48" y="163.00" width="12.42" height="125.45" fill="url(#g41b)" stroke="rgba(0,0,0,0.7)" stroke-width="1.0"/>
<rect x="267.90" y="118.50" width="12.42" height="169.95" fill="url(#g42c)" stroke="rgba(0,0,0,0.75)" stroke-width="1.1"/>
<path d="M249.27,231.80V236.00M246.07,231.80h6.4M246.07,236.00h6.4" stroke="#333" stroke-width="0.9" fill="none"/>
<path d="M261.69,160.90V165.10M258.49,160.90h6.4M258.49,165.10h6.4" stroke="#333" stroke-width="0.9" fill="none"/>
<path d="M274.11,116.40V120.60M270.91,116.40h6.4M270.91,120.60h6.4" stroke="#333" stroke-width="0.9" fill="none"/>
<text x="261.69" y="301.6" font-size="9.6" text-anchor="middle">T500-30%</text>
<rect x="292.70" y="240.60" width="12.42" height="47.85" fill="url(#g50a)" stroke="rgba(0,0,0,0.55)" stroke-width="1.0"/>
<rect x="305.12" y="209.90" width="12.42" height="78.55" fill="url(#g51b)" stroke="rgba(0,0,0,0.7)" stroke-width="1.0"/>
<rect x="317.54" y="169.80" width="12.42" height="118.65" fill="url(#g52c)" stroke="rgba(0,0,0,0.75)" stroke-width="1.1"/>
<path d="M298.91,238.50V242.70M295.71,238.50h6.4M295.71,242.70h6.4" stroke="#333" stroke-width="0.9" fill="none"/>
<path d="M311.33,207.80V212.00M308.13,207.80h6.4M308.13,212.00h6.4" stroke="#333" stroke-width="0.9" fill="none"/>
<path d="M323.75,167.70V171.90M320.55,167.70h6.4M320.55,171.90h6.4" stroke="#333" stroke-width="0.9" fill="none"/>
<text x="311.33" y="301.6" font-size="9.6" text-anchor="middle">T700-5%</text>
<rect x="342.34" y="226.90" width="12.42" height="61.55" fill="url(#g60a)" stroke="rgba(0,0,0,0.55)" stroke-width="1.0"/>
<rect x="354.76" y="196.70" width="12.42" height="91.75" fill="url(#g61b)" stroke="rgba(0,0,0,0.7)" stroke-width="1.0"/>
<rect x="367.18" y="157.90" width="12.42" height="130.55" fill="url(#g62c)" stroke="rgba(0,0,0,0.75)" stroke-width="1.1"/>
<path d="M348.55,224.80V229.00M345.35,224.80h6.4M345.35,229.00h6.4" stroke="#333" stroke-width="0.9" fill="none"/>
<path d="M360.97,194.60V198.80M357.77,194.60h6.4M357.77,198.80h6.4" stroke="#333" stroke-width="0.9" fill="none"/>
<path d="M373.39,155.80V160.00M370.19,155.80h6.4M370.19,160.00h6.4" stroke="#333" stroke-width="0.9" fill="none"/>
<text x="360.97" y="301.6" font-size="9.6" text-anchor="middle">T700-10%</text>
<rect x="391.98" y="226.80" width="12.42" height="61.65" fill="url(#g70a)" stroke="rgba(0,0,0,0.55)" stroke-width="1.0"/>
<rect x="404.40" y="157.70" width="12.42" height="130.75" fill="url(#g71b)" stroke="rgba(0,0,0,0.7)" stroke-width="1.0"/>
<rect x="416.82" y="121.00" width="12.42" height="167.45" fill="url(#g72c)" stroke="rgba(0,0,0,0.75)" stroke-width="1.1"/>
<path d="M398.19,224.70V228.90M394.99,224.70h6.4M394.99,228.90h6.4" stroke="#333" stroke-width="0.9" fill="none"/>
<path d="M410.61,155.60V159.80M407.41,155.60h6.4M407.41,159.80h6.4" stroke="#333" stroke-width="0.9" fill="none"/>
<path d="M423.03,118.90V123.10M419.83,118.90h6.4M419.83,123.10h6.4" stroke="#333" stroke-width="0.9" fill="none"/>
<text x="410.61" y="301.6" font-size="9.6" text-anchor="middle">T700-20%</text>
<rect x="441.62" y="192.70" width="12.42" height="95.75" fill="url(#g80a)" stroke="rgba(0,0,0,0.55)" stroke-width="1.0"/>
<rect x="454.04" y="113.60" width="12.42" height="174.85" fill="url(#g81b)" stroke="rgba(0,0,0,0.7)" stroke-width="1.0"/>
<rect x="466.46" y="59.40" width="12.42" height="229.05" fill="url(#g82c)" stroke="rgba(0,0,0,0.75)" stroke-width="1.1"/>
<path d="M447.83,190.60V194.80M444.63,190.60h6.4M444.63,194.80h6.4" stroke="#333" stroke-width="0.9" fill="none"/>
<path d="M460.25,111.50V115.70M457.05,111.50h6.4M457.05,115.70h6.4" stroke="#333" stroke-width="0.9" fill="none"/>
<path d="M472.67,57.30V61.50M469.47,57.30h6.4M469.47,61.50h6.4" stroke="#333" stroke-width="0.9" fill="none"/>
<text x="460.25" y="301.6" font-size="9.6" text-anchor="middle">T700-30%</text>
<rect x="491.26" y="246.90" width="12.42" height="41.55" fill="url(#g90a)" stroke="rgba(0,0,0,0.55)" stroke-width="1.0"/>
<rect x="503.68" y="211.20" width="12.42" height="77.25" fill="url(#g91b)" stroke="rgba(0,0,0,0.7)" stroke-width="1.0"/>
<rect x="516.10" y="167.70" width="12.42" height="120.75" fill="url(#g92c)" stroke="rgba(0,0,0,0.75)" stroke-width="1.1"/>
<path d="M497.47,244.80V249.00M494.27,244.80h6.4M494.27,249.00h6.4" stroke="#333" stroke-width="0.9" fill="none"/>
<path d="M509.89,209.10V213.30M506.69,209.10h6.4M506.69,213.30h6.4" stroke="#333" stroke-width="0.9" fill="none"/>
<path d="M522.31,165.60V169.80M519.11,165.60h6.4M519.11,169.80h6.4" stroke="#333" stroke-width="0.9" fill="none"/>
<text x="509.89" y="301.6" font-size="9.6" text-anchor="middle">T900-5%</text>
<rect x="540.90" y="240.00" width="12.42" height="48.45" fill="url(#g100a)" stroke="rgba(0,0,0,0.55)" stroke-width="1.0"/>
<rect x="553.32" y="197.70" width="12.42" height="90.75" fill="url(#g101b)" stroke="rgba(0,0,0,0.7)" stroke-width="1.0"/>
<rect x="565.74" y="159.30" width="12.42" height="129.15" fill="url(#g102c)" stroke="rgba(0,0,0,0.75)" stroke-width="1.1"/>
<path d="M547.11,237.90V242.10M543.91,237.90h6.4M543.91,242.10h6.4" stroke="#333" stroke-width="0.9" fill="none"/>
<path d="M559.53,195.60V199.80M556.33,195.60h6.4M556.33,199.80h6.4" stroke="#333" stroke-width="0.9" fill="none"/>
<path d="M571.95,157.20V161.40M568.75,157.20h6.4M568.75,161.40h6.4" stroke="#333" stroke-width="0.9" fill="none"/>
<text x="559.53" y="301.6" font-size="9.6" text-anchor="middle">T900-10%</text>
<rect x="590.54" y="234.50" width="12.42" height="53.95" fill="url(#g110a)" stroke="rgba(0,0,0,0.55)" stroke-width="1.0"/>
<rect x="602.96" y="181.50" width="12.42" height="106.95" fill="url(#g111b)" stroke="rgba(0,0,0,0.7)" stroke-width="1.0"/>
<rect x="615.38" y="126.30" width="12.42" height="162.15" fill="url(#g112c)" stroke="rgba(0,0,0,0.75)" stroke-width="1.1"/>
<path d="M596.75,232.40V236.60M593.55,232.40h6.4M593.55,236.60h6.4" stroke="#333" stroke-width="0.9" fill="none"/>
<path d="M609.17,179.40V183.60M605.97,179.40h6.4M605.97,183.60h6.4" stroke="#333" stroke-width="0.9" fill="none"/>
<path d="M621.59,124.20V128.40M618.39,124.20h6.4M618.39,128.40h6.4" stroke="#333" stroke-width="0.9" fill="none"/>
<text x="609.17" y="301.6" font-size="9.6" text-anchor="middle">T900-20%</text>
<rect x="640.18" y="228.80" width="12.42" height="59.65" fill="url(#g120a)" stroke="rgba(0,0,0,0.55)" stroke-width="1.0"/>
<rect x="652.60" y="175.70" width="12.42" height="112.75" fill="url(#g121b)" stroke="rgba(0,0,0,0.7)" stroke-width="1.0"/>
<rect x="665.02" y="116.50" width="12.42" height="171.95" fill="url(#g122c)" stroke="rgba(0,0,0,0.75)" stroke-width="1.1"/>
<path d="M646.39,226.70V230.90M643.19,226.70h6.4M643.19,230.90h6.4" stroke="#333" stroke-width="0.9" fill="none"/>
<path d="M658.81,173.60V177.80M655.61,173.60h6.4M655.61,177.80h6.4" stroke="#333" stroke-width="0.9" fill="none"/>
<path d="M671.23,114.40V118.60M668.03,114.40h6.4M668.03,118.60h6.4" stroke="#333" stroke-width="0.9" fill="none"/>
<text x="658.81" y="301.6" font-size="9.6" text-anchor="middle">T900-30%</text>
<path d="M124.30,180.25 L126.13,180.10 L127.96,179.93 L129.79,179.74 L131.63,179.53 L133.46,179.31 L135.29,179.07 L137.12,178.81 L138.95,178.53 L140.78,178.24 L142.62,177.93 L144.45,177.60 L146.28,177.26 L148.11,176.89 L149.94,176.52 L151.77,176.12 L153.61,175.71 L155.44,175.29 L157.27,174.84 L159.10,174.39 L160.93,173.91 L162.76,173.42 L164.60,172.91 L166.43,172.39 L168.26,171.86 L170.09,171.31 L171.92,170.74 L173.75,170.16 L175.59,169.56 L177.42,168.95 L179.25,168.32 L181.08,167.68 L182.91,167.03 L184.74,166.36 L186.58,165.67 L188.41,164.97 L190.24,164.26 L192.07,163.54 L193.90,162.80 L195.73,162.04 L197.57,161.28 L199.40,160.50 L201.23,159.71 L203.06,158.90 L204.89,158.08 L206.72,157.25 L208.56,156.41 L210.39,155.55 L212.22,154.68 L214.05,153.80 L215.88,152.90 L217.71,152.00 L219.55,151.08 L221.38,150.15 L223.21,149.21 L225.04,148.25 L226.87,147.29 L228.70,146.31 L230.54,145.32 L232.37,144.33 L234.20,143.32 L236.03,142.29 L237.86,141.26 L239.69,140.22 L241.53,139.17 L243.36,138.10 L245.19,137.03 L247.02,135.95 L248.85,134.85 L250.68,133.75 L252.52,132.63 L254.35,131.51 L256.18,130.38 L258.01,129.24 L259.84,128.08 L261.67,126.92 L263.51,125.75 L265.34,124.57 L267.17,123.38 L269.00,122.19" fill="none" stroke="#111" stroke-width="1.3" stroke-dasharray="5,4.7"/>
<path d="M267.90,118.60 L270.80,123.00 L275.80,117.80Z" fill="#000" stroke="#000" stroke-width="0.5" stroke-linejoin="round"/>
<path d="M322.30,170.70 L324.16,170.18 L326.03,169.64 L327.89,169.08 L329.75,168.51 L331.62,167.92 L333.48,167.31 L335.34,166.68 L337.21,166.04 L339.07,165.37 L340.93,164.69 L342.80,163.99 L344.66,163.27 L346.52,162.53 L348.39,161.77 L350.25,160.99 L352.11,160.19 L353.98,159.37 L355.84,158.53 L357.70,157.68 L359.57,156.80 L361.43,155.90 L363.29,154.98 L365.16,154.04 L367.02,153.08 L368.88,152.10 L370.75,151.10 L372.61,150.07 L374.47,149.03 L376.34,147.96 L378.20,146.87 L380.06,145.76 L381.93,144.63 L383.79,143.48 L385.65,142.30 L387.52,141.10 L389.38,139.88 L391.24,138.64 L393.11,137.37 L394.97,136.09 L396.83,134.77 L398.69,133.44 L400.56,132.08 L402.42,130.70 L404.28,129.29 L406.15,127.86 L408.01,126.41 L409.87,124.93 L411.74,123.43 L413.60,121.91 L415.46,120.36 L417.33,118.78 L419.19,117.18 L421.05,115.56 L422.92,113.91 L424.78,112.23 L426.64,110.53 L428.51,108.81 L430.37,107.06 L432.23,105.28 L434.10,103.48 L435.96,101.65 L437.82,99.80 L439.69,97.92 L441.55,96.01 L443.41,94.07 L445.28,92.11 L447.14,90.13 L449.00,88.11 L450.87,86.07 L452.73,84.00 L454.59,81.90 L456.46,79.78 L458.32,77.63 L460.18,75.45 L462.05,73.24 L463.91,71.00 L465.77,68.74 L467.64,66.45 L469.50,64.13" fill="none" stroke="#111" stroke-width="1.3" stroke-dasharray="5,4.7"/>
<path d="M468.80,62.40 L471.50,66.20 L474.00,60.00Z" fill="#000" stroke="#000" stroke-width="0.5" stroke-linejoin="round"/>
<path d="M521.00,167.66 L522.80,167.38 L524.59,167.08 L526.39,166.76 L528.19,166.41 L529.99,166.05 L531.78,165.66 L533.58,165.25 L535.38,164.82 L537.18,164.37 L538.97,163.90 L540.77,163.42 L542.57,162.91 L544.37,162.39 L546.16,161.85 L547.96,161.30 L549.76,160.73 L551.56,160.14 L553.35,159.54 L555.15,158.93 L556.95,158.30 L558.75,157.66 L560.54,157.01 L562.34,156.35 L564.14,155.67 L565.94,154.99 L567.73,154.29 L569.53,153.58 L571.33,152.87 L573.13,152.15 L574.92,151.42 L576.72,150.68 L578.52,149.94 L580.32,149.19 L582.11,148.43 L583.91,147.67 L585.71,146.91 L587.51,146.14 L589.30,145.37 L591.10,144.60 L592.90,143.82 L594.70,143.05 L596.49,142.27 L598.29,141.49 L600.09,140.71 L601.89,139.93 L603.68,139.16 L605.48,138.38 L607.28,137.61 L609.08,136.84 L610.87,136.08 L612.67,135.32 L614.47,134.56 L616.27,133.81 L618.06,133.07 L619.86,132.33 L621.66,131.60 L623.46,130.87 L625.25,130.16 L627.05,129.45 L628.85,128.76 L630.65,128.07 L632.44,127.39 L634.24,126.72 L636.04,126.07 L637.84,125.43 L639.63,124.80 L641.43,124.18 L643.23,123.58 L645.03,122.99 L646.82,122.42 L648.62,121.86 L650.42,121.32 L652.22,120.79 L654.01,120.29 L655.81,119.80 L657.61,119.33 L659.41,118.87 L661.20,118.44 L663.00,118.03" fill="none" stroke="#111" stroke-width="1.3" stroke-dasharray="5,4.7"/>
<path d="M662.50,116.60 L663.40,120.30 L671.00,116.40Z" fill="#000" stroke="#000" stroke-width="0.5" stroke-linejoin="round"/>
<rect x="38.7" y="6.15" width="644.30" height="282.30" fill="none" stroke="#111" stroke-width="1.3"/>
<text x="32.3" y="291.75" font-size="12" text-anchor="end">0.0</text>
<line x1="38.7" y1="260.22" x2="43.70" y2="260.22" stroke="#111" stroke-width="1.3"/>
<text x="32.3" y="263.52" font-size="12" text-anchor="end">0.5</text>
<line x1="38.7" y1="231.99" x2="43.70" y2="231.99" stroke="#111" stroke-width="1.3"/>
<text x="32.3" y="235.29" font-size="12" text-anchor="end">1.0</text>
<line x1="38.7" y1="203.76" x2="43.70" y2="203.76" stroke="#111" stroke-width="1.3"/>
<text x="32.3" y="207.06" font-size="12" text-anchor="end">1.5</text>
<line x1="38.7" y1="175.53" x2="43.70" y2="175.53" stroke="#111" stroke-width="1.3"/>
<text x="32.3" y="178.83" font-size="12" text-anchor="end">2.0</text>
<line x1="38.7" y1="147.30" x2="43.70" y2="147.30" stroke="#111" stroke-width="1.3"/>
<text x="32.3" y="150.60" font-size="12" text-anchor="end">2.5</text>
<line x1="38.7" y1="119.07" x2="43.70" y2="119.07" stroke="#111" stroke-width="1.3"/>
<text x="32.3" y="122.37" font-size="12" text-anchor="end">3.0</text>
<line x1="38.7" y1="90.84" x2="43.70" y2="90.84" stroke="#111" stroke-width="1.3"/>
<text x="32.3" y="94.14" font-size="12" text-anchor="end">3.5</text>
<line x1="38.7" y1="62.61" x2="43.70" y2="62.61" stroke="#111" stroke-width="1.3"/>
<text x="32.3" y="65.91" font-size="12" text-anchor="end">4.0</text>
<line x1="38.7" y1="34.38" x2="43.70" y2="34.38" stroke="#111" stroke-width="1.3"/>
<text x="32.3" y="37.68" font-size="12" text-anchor="end">4.5</text>
<text x="32.3" y="9.45" font-size="12" text-anchor="end">5.0</text>
<rect x="132.3" y="17.5" width="46.6" height="15.5" fill="url(#L0a)" stroke="#555" stroke-width="0.9"/>
<rect x="310.3" y="17.5" width="46.6" height="15.5" fill="url(#L1b)" stroke="#333" stroke-width="1.0"/>
<rect x="487.8" y="17.5" width="46.6" height="15.5" fill="url(#L2c)" stroke="#333" stroke-width="1.0"/>
<text x="185.1" y="30.6" font-size="14.5">7d</text>
<text x="363.4" y="30.6" font-size="14.5">14d</text>
<text x="540.1" y="30.6" font-size="14.5">28d</text>
<text x="368.5" y="318.8" font-size="14.7" text-anchor="middle">Grout concretion sample</text>
<text transform="translate(11.8,158.3) rotate(-90)" font-size="15" text-anchor="middle">Compressive strength / MPa</text>
</svg></body></html>
